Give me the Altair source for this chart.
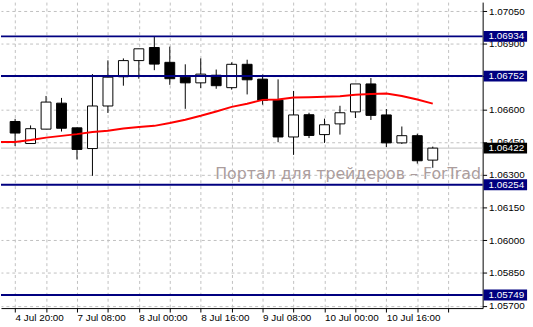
import altair as alt
import pandas as pd

# ---- data (EURUSD-like H4 candles) ----
opens  = [1.06544, 1.06443, 1.06509, 1.06628, 1.06515, 1.06420, 1.06615, 1.06749,
          1.06823, 1.06883, 1.06815, 1.06747, 1.06721, 1.06756, 1.06699, 1.06806,
          1.06738, 1.06642, 1.06473, 1.06575, 1.06484, 1.06533, 1.06588, 1.06716,
          1.06574, 1.06446, 1.06479, 1.06367]
highs  = [1.06556, 1.06526, 1.06661, 1.06652, 1.06516, 1.06761, 1.06824, 1.06833,
          1.06877, 1.06933, 1.06887, 1.06806, 1.06833, 1.06782, 1.06815, 1.06827,
          1.06759, 1.06737, 1.06684, 1.06584, 1.06557, 1.06616, 1.06716, 1.06743,
          1.06601, 1.06521, 1.06488, 1.06429]
lows   = [1.06432, 1.06441, 1.06509, 1.06498, 1.06370, 1.06295, 1.06583, 1.06708,
          1.06740, 1.06779, 1.06712, 1.06602, 1.06697, 1.06694, 1.06690, 1.06668,
          1.06621, 1.06449, 1.06391, 1.06468, 1.06446, 1.06484, 1.06560, 1.06551,
          1.06427, 1.06441, 1.06351, 1.06332]
closes = [1.06491, 1.06511, 1.06633, 1.06513, 1.06416, 1.06615, 1.06747, 1.06823,
          1.06877, 1.06807, 1.06740, 1.06721, 1.06761, 1.06708, 1.06806, 1.06735,
          1.06641, 1.06473, 1.06574, 1.06480, 1.06529, 1.06584, 1.06716, 1.06572,
          1.06446, 1.06479, 1.06364, 1.06422]
# moving average, starting one bar before the first visible candle
ma_values = [1.06450, 1.06450, 1.06459, 1.06470, 1.06478, 1.06486, 1.06496, 1.06502,
             1.06512, 1.06519, 1.06524, 1.06537, 1.06552, 1.06570, 1.06590, 1.06611,
             1.06625, 1.06643, 1.06645, 1.06654, 1.06655, 1.06657, 1.06660, 1.06667,
             1.06670, 1.06672, 1.06661, 1.06645, 1.06626]

level_prices = [1.06934, 1.06752, 1.06254, 1.05749]
last_price = [1.06422]
y_tick_values = [1.05700, 1.05850, 1.06000, 1.06150, 1.06300,
                 1.06450, 1.06600, 1.06750, 1.06900, 1.07050]
x_tick_index = [0, 4, 8, 12, 16, 20, 24]
x_tick_labels = ["4 Jul 20:00", "7 Jul 08:00", "8 Jul 00:00", "8 Jul 16:00",
                 "9 Jul 08:00", "10 Jul 00:00", "10 Jul 16:00"]
watermark = ["Портал для трейдеров – ForTrader.org"]

# ---- tables ----
n = len(opens)
candles = pd.DataFrame({
    "i": list(range(n)), "open": opens, "high": highs,
    "low": lows, "close": closes,
})
ma_df = pd.DataFrame({"i": list(range(-1, len(ma_values) - 1)), "ma": ma_values})
levels = pd.DataFrame({"p": level_prices,
                       "txt": [f"{v:.5f}" for v in level_prices]})
last = pd.DataFrame({"p": last_price, "txt": [f"{v:.5f}" for v in last_price]})
wm = pd.DataFrame({"t": watermark})

FONT = "Liberation Sans"
NAVY = "#000080"

label_expr = "".join(
    f"datum.value == {k} ? '{lab}' : " for k, lab in zip(x_tick_index, x_tick_labels)
) + "''"

x_scale = alt.Scale(domain=[-0.59375, 29.90625], nice=False, zero=False)
y_scale = alt.Scale(domain=[1.05689, 1.07091], nice=False, zero=False)

x_axis = alt.Axis(values=list(range(0, 30, 2)), labelExpr=label_expr, title=None,
                  grid=True, gridColor="#c0c0c0", gridDash=[3, 3], gridWidth=1,
                  domainColor="black", tickColor="black", tickSize=4,
                  labelAlign="left", labelBaseline="top", labelPadding=1,
                  labelFont=FONT, labelFontSize=10, labelColor="black",
                  labelOverlap=False, labelFlush=False, labelBound=False)
y_axis = alt.Axis(orient="right", values=y_tick_values, format=".5f", title=None,
                  grid=True, gridColor="#c0c0c0", gridDash=[3, 3], gridWidth=1,
                  domainColor="black", tickColor="black", tickSize=4,
                  labelPadding=2, labelFont=FONT, labelFontSize=10,
                  labelColor="black", labelOverlap=False, labelFlush=False)

X = alt.X("i:Q", scale=x_scale, axis=x_axis)

base = alt.Chart(candles)

wm_layer = alt.Chart(wm).mark_text(
    align="left", baseline="alphabetic", font="DejaVu Sans", fontSize=16,
    color="#ab9d9d", clip=True
).encode(x=alt.value(217), y=alt.value(179), text="t:N")

last_line = alt.Chart(last).mark_rule(color="#c0c0c0", strokeWidth=1).encode(
    y=alt.Y("p:Q", scale=y_scale, axis=y_axis), x=alt.value(0), x2=alt.value(488))

wicks = base.mark_rule(color="black", strokeWidth=1).encode(
    x=X, y=alt.Y("low:Q", scale=y_scale, axis=y_axis), y2="high:Q")

bodies = base.mark_bar(size=10, stroke="black", strokeWidth=1).encode(
    x=X, y=alt.Y("open:Q", scale=y_scale, axis=y_axis), y2="close:Q",
    fill=alt.condition("datum.close >= datum.open", alt.value("white"), alt.value("black")))

ma_line = alt.Chart(ma_df).mark_line(color="#ff0000", strokeWidth=2, clip=True).encode(
    x=X, y=alt.Y("ma:Q", scale=y_scale, axis=y_axis))

level_lines = alt.Chart(levels).mark_rule(color=NAVY, strokeWidth=2).encode(
    y=alt.Y("p:Q", scale=y_scale, axis=y_axis), x=alt.value(0), x2=alt.value(488))

level_boxes = alt.Chart(levels).mark_rule(color=NAVY, strokeWidth=11, strokeCap="butt").encode(
    y=alt.Y("p:Q", scale=y_scale, axis=y_axis), x=alt.value(489), x2=alt.value(533))
level_text = alt.Chart(levels).mark_text(
    align="left", baseline="middle", font=FONT, fontSize=10, color="white"
).encode(y=alt.Y("p:Q", scale=y_scale, axis=y_axis), x=alt.value(494), text="txt:N")

last_box = alt.Chart(last).mark_rule(color="black", strokeWidth=11, strokeCap="butt").encode(
    y=alt.Y("p:Q", scale=y_scale, axis=y_axis), x=alt.value(489), x2=alt.value(533))
last_text = alt.Chart(last).mark_text(
    align="left", baseline="middle", font=FONT, fontSize=10, color="white"
).encode(y=alt.Y("p:Q", scale=y_scale, axis=y_axis), x=alt.value(494), text="txt:N")

chart = alt.layer(
    wm_layer, last_line, wicks, bodies, ma_line, level_lines,
    level_boxes, level_text, last_box, last_text
).properties(
    width=488, height=310,
    padding={"left": 0, "top": 0, "right": 0, "bottom": 0},
    autosize=alt.AutoSizeParams(type="pad"),
    background="white",
).configure_view(stroke=None)

chart.save("out.html", embed_options={"renderer": "svg", "actions": False})
